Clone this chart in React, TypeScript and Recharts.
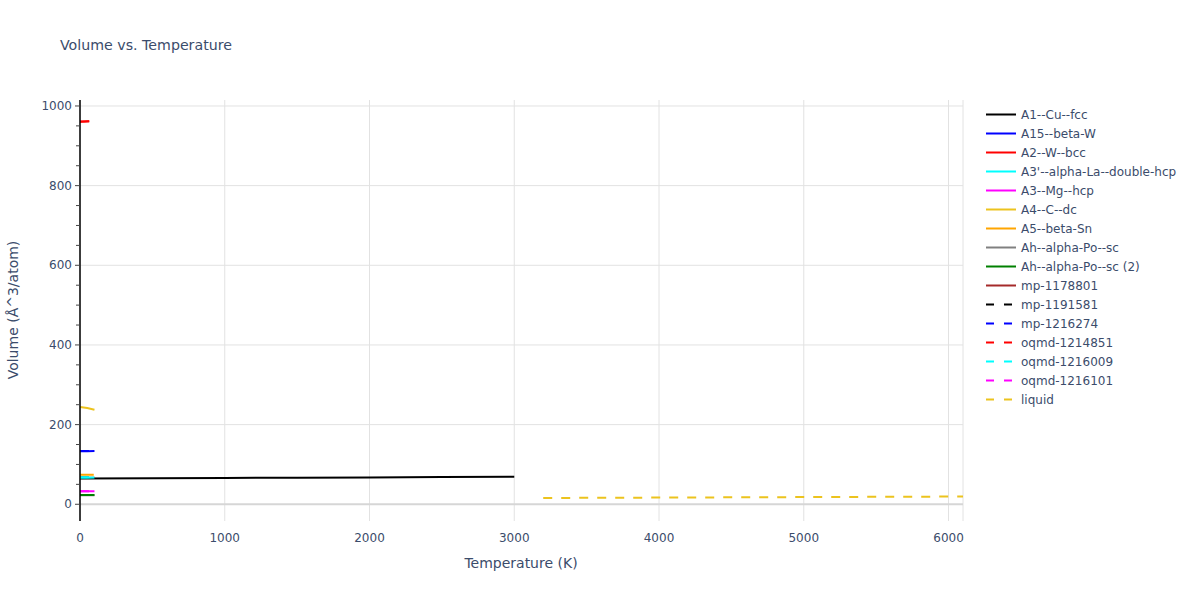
import { LineChart, Line, XAxis, YAxis, CartesianGrid, ReferenceLine } from 'recharts';

// Volume vs. Temperature, per-phase curves (quasi-harmonic + liquid)

const xTicks = [0, 1000, 2000, 3000, 4000, 5000, 6000];
const yMajor = [0, 200, 400, 600, 800, 1000];
const yTicks = [0, 50, 100, 150, 200, 250, 300, 350, 400, 450, 500, 550, 600, 650, 700, 750, 800, 850, 900, 950, 1000];

const cuT = [0, 500, 1000, 1500, 2000, 2500, 3000];
const cuV = [64.8, 65.4, 66.1, 66.8, 67.5, 68.2, 69.0];
const a15T = [0, 50, 100];
const a15V = [133.2, 133.4, 133.8];
const a2T = [0, 30, 65];
const a2V = [960.6, 961.0, 961.6];
const a3pT = [0, 50, 100];
const a3pV = [66.6, 66.8, 67.1];
const mgT = [0, 50, 100];
const mgV = [32.4, 32.5, 32.7];
const dcT = [0, 50, 100];
const dcV = [244.5, 241.5, 237.5];
const snT = [0, 50, 95];
const snV = [74.0, 74.1, 74.3];
const poT = [0, 50, 100];
const poV = [22.6, 22.7, 22.9];
const po2T = [0, 50, 100];
const po2V = [23.2, 23.3, 23.5];
const mp78T = [0, 50, 100];
const mp78V = [66.3, 66.5, 66.8];
const mp91T = [0, 50, 100];
const mp91V = [66.9, 67.1, 67.4];
const mp74T = [0, 50, 100];
const mp74V = [133.5, 133.7, 134.0];
const oq51T = [0, 30, 65];
const oq51V = [960.9, 961.3, 961.8];
const oq09T = [0, 50, 100];
const oq09V = [67.8, 68.0, 68.3];
const oq01T = [0, 50, 100];
const oq01V = [32.8, 32.9, 33.1];
const liqT = [3200, 3600, 4000, 4400, 4800, 5200, 5600, 6100];
const liqV = [15.8, 16.3, 16.8, 17.3, 17.8, 18.3, 18.8, 19.4];

const toPts = (t: number[], v: number[]) => t.map((T, i) => ({ T, V: v[i] }));

interface Series {
  name: string;
  color: string;
  dash?: boolean;
  data: Array<{ T: number; V: number }>;
}

// legend order
const series: Series[] = [
  { name: 'A1--Cu--fcc', color: '#000000', data: toPts(cuT, cuV) },
  { name: 'A15--beta-W', color: '#0000ff', data: toPts(a15T, a15V) },
  { name: 'A2--W--bcc', color: '#ff0000', data: toPts(a2T, a2V) },
  { name: "A3'--alpha-La--double-hcp", color: '#00ffff', data: toPts(a3pT, a3pV) },
  { name: 'A3--Mg--hcp', color: '#ff00ff', data: toPts(mgT, mgV) },
  { name: 'A4--C--dc', color: '#ecc31e', data: toPts(dcT, dcV) },
  { name: 'A5--beta-Sn', color: '#ffa500', data: toPts(snT, snV) },
  { name: 'Ah--alpha-Po--sc', color: '#808080', data: toPts(poT, poV) },
  { name: 'Ah--alpha-Po--sc (2)', color: '#008000', data: toPts(po2T, po2V) },
  { name: 'mp-1178801', color: '#a52a2a', data: toPts(mp78T, mp78V) },
  { name: 'mp-1191581', color: '#000000', dash: true, data: toPts(mp91T, mp91V) },
  { name: 'mp-1216274', color: '#0000ff', dash: true, data: toPts(mp74T, mp74V) },
  { name: 'oqmd-1214851', color: '#ff0000', dash: true, data: toPts(oq51T, oq51V) },
  { name: 'oqmd-1216009', color: '#00ffff', dash: true, data: toPts(oq09T, oq09V) },
  { name: 'oqmd-1216101', color: '#ff00ff', dash: true, data: toPts(oq01T, oq01V) },
  { name: 'liquid', color: '#ecc31e', dash: true, data: toPts(liqT, liqV) },
];

// draw the hidden ones first so the visible ones sit on top
const drawOrder = [7, 9, 10, 11, 12, 13, 14, 0, 1, 2, 3, 4, 5, 6, 8, 15];

const font = '"DejaVu Sans", Verdana, sans-serif';
const textColor = '#3b4c6b';

function YTick(props: any) {
  const { x, y, payload } = props;
  const major = payload.value % 200 === 0;
  return (
    <g>
      <line x1={x - (major ? 5 : 4)} x2={x} y1={y} y2={y} stroke="#444" strokeWidth={1} />
      {major && (
        <text x={x - 8} y={y} dy={4} textAnchor="end" fontSize={12} fill={textColor} fontFamily={font}>
          {payload.value}
        </text>
      )}
    </g>
  );
}

export default function App() {
  return (
    <div style={{ position: 'fixed', left: 0, top: 0, width: 1200, height: 600, background: '#fff', fontFamily: font }}>
      <LineChart width={1200} height={600} margin={{ top: 100, right: 237, bottom: 49, left: 20 }}>
        <CartesianGrid horizontal={false} stroke="#e2e2e2" strokeWidth={1} />
        {yMajor.filter((v) => v !== 0).map((v) => (
          <ReferenceLine key={v} y={v} stroke="#e2e2e2" strokeWidth={1} />
        ))}
        <ReferenceLine y={0} stroke="#d6d6d6" strokeWidth={2} />
        <XAxis
          type="number"
          dataKey="T"
          domain={[0, 6100]}
          ticks={xTicks}
          allowDataOverflow
          axisLine={false}
          tickLine={false}
          height={30}
          tickMargin={6}
          tick={{ fontSize: 12, fill: textColor, fontFamily: font }}
        />
        <YAxis
          type="number"
          dataKey="V"
          domain={[-42, 1015]}
          ticks={yTicks}
          allowDataOverflow
          width={60}
          axisLine={{ stroke: '#000', strokeWidth: 1.5 }}
          tickLine={false}
          tickSize={0}
          tickMargin={0}
          interval={0}
          tick={<YTick />}
        />
        {drawOrder.map((i) => {
          const s = series[i];
          return (
            <Line
              key={s.name}
              data={s.data}
              dataKey="V"
              name={s.name}
              type="linear"
              stroke={s.color}
              strokeWidth={2}
              strokeDasharray={s.dash ? '9 9' : undefined}
              dot={false}
              activeDot={false}
              isAnimationActive={false}
            />
          );
        })}
      </LineChart>

      <div style={{ position: 'absolute', left: 60, top: 37, fontSize: 14.2, color: textColor }}>
        Volume vs. Temperature
      </div>
      <div style={{ position: 'absolute', left: 421, width: 200, top: 555, textAlign: 'center', fontSize: 14, color: textColor }}>
        Temperature (K)
      </div>
      <div
        style={{
          position: 'absolute',
          left: 13,
          top: 310,
          transform: 'translate(-50%, -50%) rotate(-90deg)',
          whiteSpace: 'nowrap',
          fontSize: 14,
          color: textColor,
        }}
      >
        Volume (Å^3/atom)
      </div>

      <div style={{ position: 'absolute', left: 986, top: 105 }}>
        {series.map((s) => (
          <div key={s.name} style={{ display: 'flex', alignItems: 'center', height: 19 }}>
            <svg width={30} height={19}>
              <line
                x1={0}
                x2={30}
                y1={9.5}
                y2={9.5}
                stroke={s.color}
                strokeWidth={2}
                strokeDasharray={s.dash ? '8 10' : undefined}
              />
            </svg>
            <span style={{ marginLeft: 5, fontSize: 12, color: textColor, whiteSpace: 'nowrap' }}>{s.name}</span>
          </div>
        ))}
      </div>
    </div>
  );
}
